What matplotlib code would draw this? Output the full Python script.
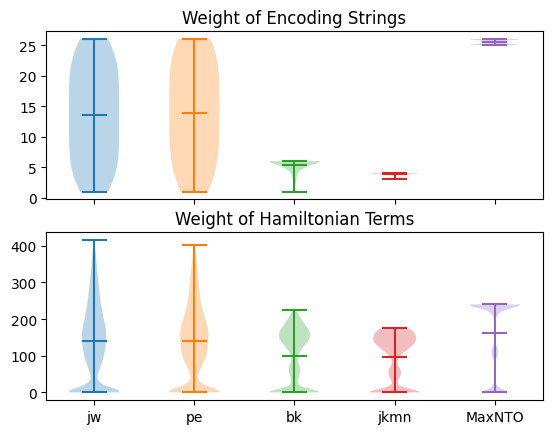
import numpy as np
import matplotlib
matplotlib.use("Agg")
import matplotlib.pyplot as plt

labels = ["jw", "pe", "bk", "jkmn", "MaxNTO"]

# weight of encoding strings: value -> how many strings
jw_enc_values = [1, 2, 3, 4, 5, 6, 7, 8, 9, 10, 11, 12, 13, 14, 15, 16, 17, 18, 19, 20, 21, 22, 23, 24, 25, 26]
jw_enc_counts = [2, 2, 2, 2, 2, 2, 2, 2, 2, 2, 2, 2, 2, 2, 2, 2, 2, 2, 2, 2, 2, 2, 2, 2, 2, 2]
pe_enc_values = [1, 2, 3, 4, 5, 6, 7, 8, 9, 10, 11, 12, 13, 14, 15, 16, 17, 18, 19, 20, 21, 22, 23, 24, 25, 26]
pe_enc_counts = [1, 1, 1, 1, 1, 1, 1, 1, 1, 1, 1, 1, 1, 1, 1, 1, 1, 1, 1, 1, 1, 1, 1, 1, 1, 2]
bk_enc_values = [1, 2, 3, 4, 5, 6]
bk_enc_counts = [1, 1, 2, 3, 11, 34]
jkmn_enc_values = [3, 4]
jkmn_enc_counts = [6, 46]
maxnto_enc_values = [25, 26]
maxnto_enc_counts = [26, 26]

# weight of hamiltonian terms (binned)
jw_ham_values = [0, 10, 20, 30, 40, 50, 60, 70, 80, 90, 100, 110, 120, 130, 140, 150, 160, 170, 180, 190,
                 200, 210, 220, 230, 240, 250, 260, 270, 280, 290, 300, 310, 320, 330, 340, 350, 360, 370,
                 380, 390, 400, 410, 417]
jw_ham_counts = [215, 45, 35, 12, 10, 14, 20, 25, 30, 36, 39, 42, 44, 46, 47, 48, 48, 47, 45, 42,
                 37, 35, 33, 30, 27, 25, 23, 22, 20, 18, 17, 15, 14, 13, 11, 10, 9, 8,
                 6, 5, 4, 3, 1]
pe_ham_values = [0, 10, 20, 30, 40, 50, 60, 70, 80, 90, 100, 110, 120, 130, 140, 150, 160, 170, 180, 190,
                 200, 210, 220, 230, 240, 250, 260, 270, 280, 290, 300, 310, 320, 330, 340, 350, 360, 370,
                 380, 390, 400, 402]
pe_ham_counts = [185, 42, 33, 12, 10, 13, 19, 25, 31, 37, 41, 44, 46, 47, 48, 49, 49, 48, 46, 42,
                 38, 34, 30, 27, 24, 22, 20, 19, 17, 16, 15, 14, 13, 11, 10, 9, 7, 6,
                 5, 4, 2, 1]
bk_ham_values = [0, 10, 20, 30, 40, 50, 60, 70, 80, 90, 100, 110, 120, 130, 140, 150, 160, 170, 180, 190,
                 200, 210, 220, 226]
bk_ham_counts = [240, 10, 12, 14, 17, 22, 28, 25, 14, 11, 14, 22, 33, 48, 62, 69, 70, 64, 52, 40,
                 30, 19, 8, 4]
jkmn_ham_values = [0, 10, 20, 30, 40, 50, 60, 70, 80, 90, 100, 110, 120, 130, 140, 150, 160, 170, 177]
jkmn_ham_counts = [240, 8, 8, 12, 20, 30, 30, 18, 8, 10, 22, 40, 62, 82, 95, 97, 88, 75, 45]
maxnto_ham_values = [0, 10, 20, 30, 40, 50, 60, 70, 80, 90, 100, 110, 120, 130, 140, 150, 160, 170, 180, 190,
                     200, 210, 220, 230, 240]
maxnto_ham_counts = [160, 25, 8, 4, 3, 2, 2, 2, 3, 8, 22, 32, 22, 8, 3, 2, 2, 2, 2, 2,
                     5, 12, 42, 85, 360]

enc = [(jw_enc_values, jw_enc_counts), (pe_enc_values, pe_enc_counts), (bk_enc_values, bk_enc_counts),
       (jkmn_enc_values, jkmn_enc_counts), (maxnto_enc_values, maxnto_enc_counts)]
ham = [(jw_ham_values, jw_ham_counts), (pe_ham_values, pe_ham_counts), (bk_ham_values, bk_ham_counts),
       (jkmn_ham_values, jkmn_ham_counts), (maxnto_ham_values, maxnto_ham_counts)]
ham_bw = [10.0, 10.0, 9.0, 9.0, 8.0]  # kernel width in weight units

fig, (ax1, ax2) = plt.subplots(2, 1, sharex=True, figsize=(5.52, 4.35), dpi=100)
fig.subplots_adjust(left=0.0842, right=0.9828, top=0.9257, bottom=0.0782, hspace=0.194)

for i, (v, c) in enumerate(enc):
    data = np.repeat(v, c)
    ax1.violinplot(data, positions=[i + 1], showmeans=True)
ax1.set_title("Weight of Encoding Strings")

for i, (v, c) in enumerate(ham):
    data = np.repeat(v, c)
    ax2.violinplot(data, positions=[i + 1], showmeans=True,
                   bw_method=ham_bw[i] / np.std(data, ddof=1))
ax2.set_title("Weight of Hamiltonian Terms")
ax2.set_xticks([1, 2, 3, 4, 5])
ax2.set_xticklabels(labels)

plt.savefig("out.png", dpi=100)
